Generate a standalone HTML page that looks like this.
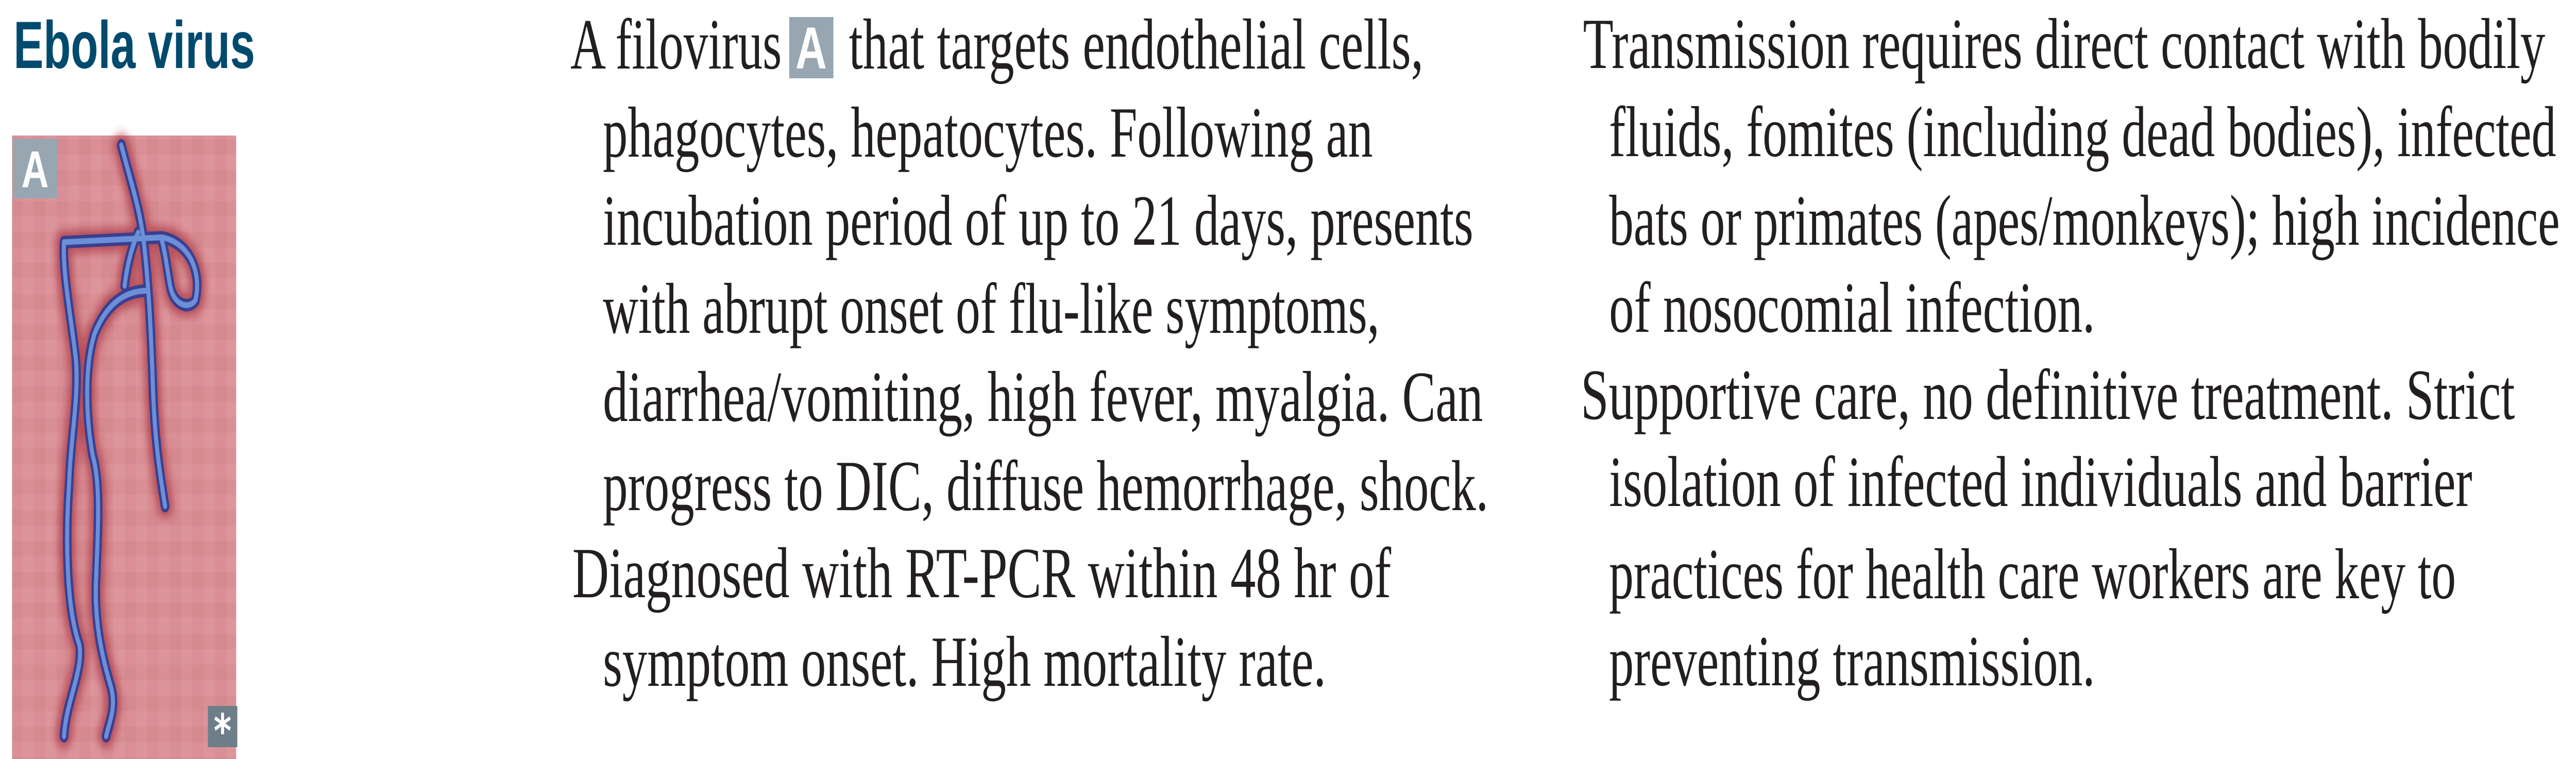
<!DOCTYPE html>
<html><head><meta charset="utf-8"><style>
html,body{margin:0;padding:0;background:#fff;width:100%;height:100%;overflow:hidden}
svg{display:block;width:100vw;height:100vh}
svg text.b{font-family:"Liberation Serif",serif;font-size:140px;fill:#231f20}
</style></head><body>
<svg viewBox="0 0 6828 1473" preserveAspectRatio="none" xmlns="http://www.w3.org/2000/svg">
<defs>
<pattern id="tex" width="60" height="60" patternUnits="userSpaceOnUse">
<rect width="60" height="60" fill="#d98f95"/>
<rect x="0" y="0" width="30" height="30" fill="#e09ca1" opacity="0.5"/>
<rect x="30" y="30" width="30" height="30" fill="#d2858b" opacity="0.5"/>
</pattern>
<filter id="blur"><feGaussianBlur stdDeviation="10"/></filter>
</defs>
<text x="36" y="132" font-family="'Liberation Sans',sans-serif" font-weight="bold" font-size="130" fill="#004a6e" textLength="640" lengthAdjust="spacingAndGlyphs">Ebola virus</text>

<g>
<rect x="32" y="263" width="594" height="1210" fill="url(#tex)"/>
<g transform="scale(0.893,0.94)">
<g fill="none" stroke-linecap="round" stroke-linejoin="round">
<g stroke="#9b1f2a" stroke-width="50" opacity="0.55" filter="url(#blur)">
<path d="M360,300 C390,380 420,440 430,520 C445,620 450,720 455,820 C460,900 470,960 490,1045"/>
<path d="M190,500 L480,490 C560,500 600,560 580,620 C560,640 515,630 505,590 C495,550 490,520 480,495"/>
<path d="M190,500 C185,560 210,650 225,740 C235,820 210,900 205,1000 C195,1100 195,1250 235,1330 C250,1380 195,1450 190,1520"/>
<path d="M440,600 C380,600 320,620 280,690 C250,760 255,860 275,940 C300,1000 290,1100 285,1200 C280,1280 300,1350 330,1420 C345,1460 325,1490 315,1520"/>
<path d="M410,480 C385,520 375,560 370,590"/>
</g>
<g stroke="#3a3f8f" stroke-width="26">
<path d="M360,300 C390,380 420,440 430,520 C445,620 450,720 455,820 C460,900 470,960 490,1045"/>
<path d="M190,500 L480,490 C560,500 600,560 580,620 C560,640 515,630 505,590 C495,550 490,520 480,495"/>
<path d="M190,500 C185,560 210,650 225,740 C235,820 210,900 205,1000 C195,1100 195,1250 235,1330 C250,1380 195,1450 190,1520"/>
<path d="M440,600 C380,600 320,620 280,690 C250,760 255,860 275,940 C300,1000 290,1100 285,1200 C280,1280 300,1350 330,1420 C345,1460 325,1490 315,1520"/>
<path d="M410,480 C385,520 375,560 370,590"/>
</g>
<g stroke="#6b8fd8" stroke-width="12">
<path d="M360,300 C390,380 420,440 430,520 C445,620 450,720 455,820 C460,900 470,960 490,1045"/>
<path d="M190,500 L480,490 C560,500 600,560 580,620 C560,640 515,630 505,590 C495,550 490,520 480,495"/>
<path d="M190,500 C185,560 210,650 225,740 C235,820 210,900 205,1000 C195,1100 195,1250 235,1330 C250,1380 195,1450 190,1520"/>
<path d="M440,600 C380,600 320,620 280,690 C250,760 255,860 275,940 C300,1000 290,1100 285,1200 C280,1280 300,1350 330,1420 C345,1460 325,1490 315,1520"/>
<path d="M410,480 C385,520 375,560 370,590"/>
</g>
</g>
</g>
<rect x="34" y="269" width="118" height="116" fill="#97a6b1"/>
<text x="93" y="363" text-anchor="middle" font-family="'Liberation Sans',sans-serif" font-weight="bold" font-size="100" fill="#fff">A</text>
<rect x="551" y="1370" width="78" height="80" fill="#6d7e89"/>
<text x="590" y="1450" text-anchor="middle" font-family="'DejaVu Sans',sans-serif" font-weight="bold" font-size="90" fill="#fff">*</text>
</g>

<g>
<g transform="translate(1512,133) scale(0.8,1)"><text class="b" x="0" y="0" textLength="700" lengthAdjust="spacingAndGlyphs">A filovirus</text></g>
<rect x="2092" y="33" width="117" height="119" fill="#97a6b1"/>
<text x="2150" y="133" text-anchor="middle" font-family="'Liberation Sans',sans-serif" font-weight="bold" font-size="115" fill="#fff">A</text>
<g transform="translate(2250,133) scale(0.8,1)"><text class="b" x="0" y="0" textLength="1904" lengthAdjust="spacingAndGlyphs">that targets endothelial cells,</text></g>
<g transform="translate(1598,304) scale(0.8,1)"><text class="b" x="0" y="0" textLength="2551" lengthAdjust="spacingAndGlyphs">phagocytes, hepatocytes. Following an</text></g>
<g transform="translate(1598,475) scale(0.8,1)"><text class="b" x="0" y="0" textLength="2884" lengthAdjust="spacingAndGlyphs">incubation period of up to 21 days, presents</text></g>
<g transform="translate(1598,646) scale(0.8,1)"><text class="b" x="0" y="0" textLength="2573" lengthAdjust="spacingAndGlyphs">with abrupt onset of flu-like symptoms,</text></g>
<g transform="translate(1598,817) scale(0.8,1)"><text class="b" x="0" y="0" textLength="2916" lengthAdjust="spacingAndGlyphs">diarrhea/vomiting, high fever, myalgia. Can</text></g>
<g transform="translate(1598,990) scale(0.8,1)"><text class="b" x="0" y="0" textLength="2934" lengthAdjust="spacingAndGlyphs">progress to DIC, diffuse hemorrhage, shock.</text></g>
<g transform="translate(1517,1159) scale(0.8,1)"><text class="b" x="0" y="0" textLength="2713" lengthAdjust="spacingAndGlyphs">Diagnosed with RT-PCR within 48 hr of</text></g>
<g transform="translate(1598,1331) scale(0.8,1)"><text class="b" x="0" y="0" textLength="2396" lengthAdjust="spacingAndGlyphs">symptom onset. High mortality rate.</text></g>
</g>

<g>
<g transform="translate(4196,132) scale(0.8,1)"><text class="b" x="0" y="0" textLength="3188" lengthAdjust="spacingAndGlyphs">Transmission requires direct contact with bodily</text></g>
<g transform="translate(4265,303) scale(0.8,1)"><text class="b" x="0" y="0" textLength="3138" lengthAdjust="spacingAndGlyphs">fluids, fomites (including dead bodies), infected</text></g>
<g transform="translate(4265,475) scale(0.8,1)"><text class="b" x="0" y="0" textLength="3150" lengthAdjust="spacingAndGlyphs">bats or primates (apes/monkeys); high incidence</text></g>
<g transform="translate(4265,644) scale(0.8,1)"><text class="b" x="0" y="0" textLength="1610" lengthAdjust="spacingAndGlyphs">of nosocomial infection.</text></g>
<g transform="translate(4190,813) scale(0.8,1)"><text class="b" x="0" y="0" textLength="3095" lengthAdjust="spacingAndGlyphs">Supportive care, no definitive treatment. Strict</text></g>
<g transform="translate(4265,982) scale(0.8,1)"><text class="b" x="0" y="0" textLength="2860" lengthAdjust="spacingAndGlyphs">isolation of infected individuals and barrier</text></g>
<g transform="translate(4265,1161) scale(0.8,1)"><text class="b" x="0" y="0" textLength="2806" lengthAdjust="spacingAndGlyphs">practices for health care workers are key to</text></g>
<g transform="translate(4265,1330) scale(0.8,1)"><text class="b" x="0" y="0" textLength="1610" lengthAdjust="spacingAndGlyphs">preventing transmission.</text></g>
</g>
</svg>
</body></html>
